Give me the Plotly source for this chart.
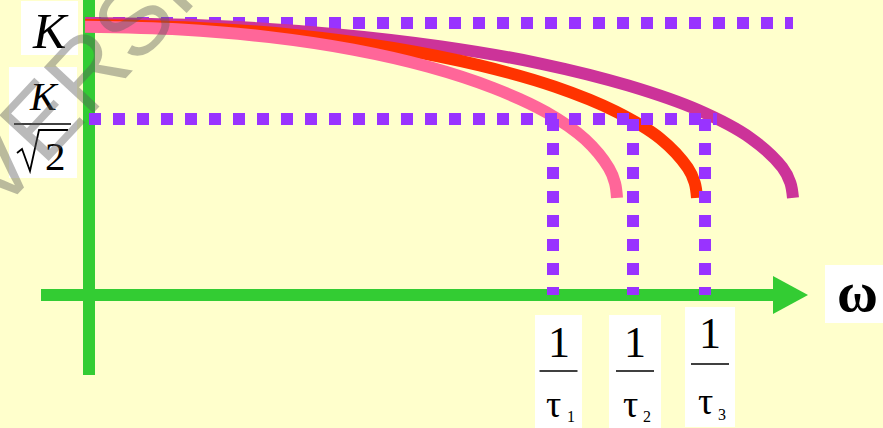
import plotly.graph_objects as go

# ---------------- data (schematic units: omega in 1/100 px, amplitude in units of K) --------------
K = 1.0
half_power = 0.647                      # level of the K/sqrt(2) line as drawn
omega_cut = [4.64, 5.44, 6.16]          # 1/tau1, 1/tau2, 1/tau3
cut_labels = ["1", "2", "3"]

w1 = [-0.04, 0.917, 1.806, 2.640, 3.394, 4.044, 4.573, 4.962, 5.200, 5.260, 5.280]
a1 = [0.986, 0.976, 0.948, 0.902, 0.839, 0.761, 0.672, 0.572, 0.466, 0.412, 0.357]

w2 = [-0.04, 1.055, 2.079, 3.040, 3.908, 4.657, 5.265, 5.713, 5.988, 6.057, 6.080]
a2 = [0.993, 0.983, 0.955, 0.908, 0.844, 0.766, 0.675, 0.575, 0.467, 0.413, 0.357]

w3 = [-0.04, 1.222, 2.408, 3.520, 4.525, 5.393, 6.097, 6.615, 6.933, 7.013, 7.040]
a3 = [1.000, 0.990, 0.961, 0.914, 0.850, 0.770, 0.679, 0.577, 0.469, 0.413, 0.357]

top_line_end = 7.04
half_line_end = 6.28

# ---------------- styling helpers ----------------
BG = "#FFFFCC"
GREEN = "#33CC33"
PURPLE = "#9933FF"
PINK = "#FF6699"
RED = "#FF3300"
MAG = "#CC3399"
SERIF = "Liberation Serif"


def PX(px):
    return (px - 89) / 100.0


def PY(py):
    return (295 - py) / 272.0


fig = go.Figure()

# axes (green)
fig.add_trace(go.Scatter(x=[0, 0], y=[PY(375), PY(0)], mode="lines",
                         line=dict(color=GREEN, width=12), hoverinfo="skip"))
fig.add_trace(go.Scatter(x=[PX(41), PX(776)], y=[0, 0], mode="lines",
                         line=dict(color=GREEN, width=12), hoverinfo="skip"))
fig.add_trace(go.Scatter(x=[PX(773), PX(808), PX(773), PX(773)],
                         y=[PY(276), 0, PY(314), PY(276)], mode="lines",
                         fill="toself", fillcolor=GREEN, line=dict(color=GREEN, width=0),
                         hoverinfo="skip"))

# K dotted line
fig.add_trace(go.Scatter(x=[0, top_line_end], y=[K, K], mode="lines",
                         line=dict(color=PURPLE, width=12, dash="12px,12px"), hoverinfo="skip"))

# curves
for w, a, c in [(w3, a3, MAG), (w2, a2, RED), (w1, a1, PINK)]:
    fig.add_trace(go.Scatter(x=w, y=a, mode="lines",
                             line=dict(color=c, width=12, shape="spline", smoothing=1.0),
                             hoverinfo="skip"))

# K/sqrt2 dotted line
fig.add_trace(go.Scatter(x=[0, half_line_end], y=[half_power, half_power], mode="lines",
                         line=dict(color=PURPLE, width=12, dash="12px,12px"), hoverinfo="skip"))
for wc in omega_cut:
    fig.add_trace(go.Scatter(x=[wc, wc], y=[half_power, 0], mode="lines",
                             line=dict(color=PURPLE, width=12, dash="12px,12px"),
                             hoverinfo="skip"))

shapes = []
annotations = []


def box(x0, y0, x1, y1):
    shapes.append(dict(type="rect", xref="x", yref="y", x0=PX(x0), x1=PX(x1),
                       y0=PY(y1), y1=PY(y0), fillcolor="white", line=dict(width=0),
                       layer="above"))


def hline(x0, x1, y, w=1.5):
    shapes.append(dict(type="line", xref="x", yref="y", x0=PX(x0), x1=PX(x1),
                       y0=PY(y), y1=PY(y), line=dict(color="black", width=w), layer="above"))


def text(t, x, y, size):
    annotations.append(dict(text=t, x=PX(x), y=PY(y), xref="x", yref="y",
                            showarrow=False, xanchor="center", yanchor="middle",
                            font=dict(family=SERIF, size=size, color="black")))


# K label
box(21, 1, 78, 55)
text("<i>K</i>", 50, 31, 50)

# K / sqrt2 label
box(9, 67, 77, 178)
text("<i>K</i>", 44, 96, 40)
hline(14, 71, 124)
# radical sign with vinculum
rad = [(17, 153), (22, 149), (30, 171), (39, 130), (68, 130)]
path = "M " + " L ".join(f"{PX(x)},{PY(y)}" for x, y in rad)
shapes.append(dict(type="path", xref="x", yref="y", path=path,
                   line=dict(color="black", width=1.8), layer="above"))
text("2", 55, 156, 41)

# 1/tau labels
tau_boxes = [(535, 315, 582, 428), (609, 315, 661, 428), (685, 307, 735, 427)]
one_y = [342, 342, 333]
bar_y = [371, 371, 364]
tau_y = [404, 404, 401]
sub_y = [416, 416, 414]
for (bx0, by0, bx1, by1), oy, bry, ty, sy, lab in zip(tau_boxes, one_y, bar_y, tau_y, sub_y, cut_labels):
    cx = (bx0 + bx1) / 2
    box(bx0, by0, bx1, by1)
    text("1", cx, oy, 44)
    hline(cx - 19, cx + 19, bry)
    text("\u03c4", cx - 5, ty, 38)
    text(lab, cx + 12, sy, 16)

# omega label
box(825, 265, 883, 323)
text("<b>\u03c9</b>", 857, 292, 56)

# watermark
annotations.append(dict(text="VERSI", x=PX(74), y=PY(84), xref="x", yref="y",
                        showarrow=False, textangle=-47,
                        font=dict(family="Liberation Sans", size=98,
                                  color="rgba(90,90,90,0.42)")))

fig.update_layout(
    width=883, height=428,
    margin=dict(l=0, r=0, t=0, b=0),
    paper_bgcolor=BG, plot_bgcolor=BG,
    showlegend=False,
    xaxis=dict(range=[PX(0), PX(883)], visible=False, fixedrange=True),
    yaxis=dict(range=[PY(428), PY(0)], visible=False, fixedrange=True),
    shapes=shapes, annotations=annotations,
)

fig.write_html("out.html", config={"displayModeBar": False},
               post_script="document.body.style.margin='0';document.body.style.padding='0';")
